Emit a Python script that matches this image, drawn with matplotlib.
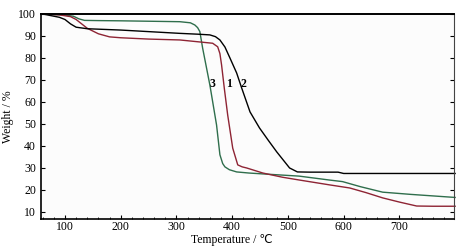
import matplotlib
matplotlib.use("Agg")
import matplotlib.pyplot as plt
from matplotlib.ticker import MultipleLocator

plt.rcParams["font.family"] = ["Liberation Serif", "DejaVu Sans"]

# curve 1 (red)
t1 = [60, 90, 110, 120, 140, 160, 180, 200, 250, 306, 365, 374, 378, 381, 386, 392, 401, 410,
      418, 426, 455, 490, 521, 575, 611, 640, 670, 700, 731, 760, 800]
w1 = [100, 99.6, 98.8, 97.5, 93.5, 91, 89.6, 89.2, 88.6, 88.2, 86.7, 85.1, 82, 76.8, 66, 54, 39, 31.4,
      30.5, 30, 27.7, 25.8, 24.5, 22.3, 20.9, 18.8, 16.4, 14.5, 12.7, 12.6, 12.6]
# curve 2 (black)
t2 = [60, 90, 100, 110, 120, 140, 200, 306, 340, 360, 370, 378, 387, 396, 408, 417, 432, 449, 465,
      480, 503, 517, 540, 590, 600, 800]
w2 = [100, 98.5, 97.5, 95.5, 94, 93.3, 92.7, 91.2, 90.8, 90.5, 89.7, 88.2, 85, 80, 73.2, 66.4, 55.5,
      48.2, 42.5, 37.3, 30, 28.2, 28.1, 28.1, 27.5, 27.5]
# curve 3 (green)
t3 = [60, 100, 115, 125, 135, 160, 200, 306, 325, 333, 338, 342, 347, 360, 372, 378, 383, 387,
      395, 408, 430, 455, 520, 575, 598, 630, 670, 720, 800]
w3 = [100, 99.5, 99, 97.8, 97.1, 97, 96.9, 96.5, 96, 95, 93.8, 92, 84.5, 67.7, 49.5, 36, 32, 30.5,
      29.2, 28.2, 27.7, 27.3, 26.3, 24.5, 23.8, 21.5, 19, 18, 16.6]

fig = plt.figure(figsize=(4.67, 2.46), dpi=100)
ax = fig.add_axes([41 / 467, 1 - 219 / 246, (454 - 41) / 467, (219 - 14) / 246])
ax.set_facecolor("#fcfcfc")

ax.plot(t3, w3, color="#2f6e4c", lw=1.0, clip_on=False)
ax.plot(t1, w1, color="#8e2434", lw=1.0, clip_on=False)
ax.plot(t2, w2, color="black", lw=1.0, clip_on=False)

for lab, x in [("3", 365), ("1", 394), ("2", 421)]:
    ax.text(x, 68, lab, fontsize=8.5, fontweight="bold", ha="center", va="center")

ax.set_xlim(57, 798)
ax.set_ylim(6.8, 100)
ax.set_xticks([100, 200, 300, 400, 500, 600, 700])
ax.set_yticks(range(10, 101, 10))
ax.xaxis.set_minor_locator(MultipleLocator(20))
ax.tick_params(which="both", direction="in", labelsize=8.5, right=True, top=False)
ax.tick_params(which="major", length=3, width=0.8)
ax.tick_params(which="minor", length=1.5, width=0.6)
ax.tick_params(axis="x", pad=1.5)
for s in ["left", "bottom"]:
    ax.spines[s].set_linewidth(1.2)
ax.spines["top"].set_linewidth(1.4)
ax.spines["right"].set_linewidth(0.8)
ax.spines["right"].set_color("#444444")

ax.set_xlabel("Temperature / \u2103", fontsize=8.5)
ax.xaxis.set_label_coords(0.462, -0.075)
ax.set_ylabel("Weight / %", fontsize=8.5, labelpad=3)

fig.savefig("out.png", dpi=100)
